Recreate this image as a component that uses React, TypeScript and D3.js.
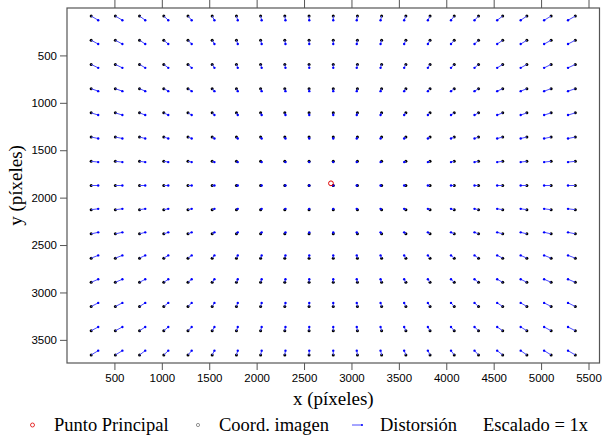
import React, { useEffect, useRef } from "react";
import * as d3 from "d3";

const W = 602;
const H = 438;
const margin = { left: 67, top: 8, right: 2.5, bottom: 75 };

// image size (px) and principal point
const imgWidth = 5616;
const imgHeight = 3744;
const principalPoint = [2784, 1849];

// grid of target coordinates
const xCoords = [255, 510, 765, 1021, 1276, 1531, 1787, 2042, 2297, 2553, 2808, 3063, 3318, 3574, 3829, 4084, 4340, 4595, 4850, 5106, 5361];
const yCoords = [85, 340, 595, 851, 1106, 1361, 1617, 1872, 2127, 2382, 2638, 2893, 3148, 3404, 3659];

// distortion (image px) read per column / per row
const dxByColumn = [74, 74, 60, 47, 39, 24, 14, 11, 7, 2, 0, -7, -11, -18, -23, -34, -42, -58, -65, -74, -77];
const dyByRow = [44, 40, 36, 26, 23, 15, 8, 0, -9, -16, -29, -32, -38, -40, -45];

const xTicks = [500, 1000, 1500, 2000, 2500, 3000, 3500, 4000, 4500, 5000, 5500];
const yTicks = [500, 1000, 1500, 2000, 2500, 3000, 3500];

const legendItems = ["Punto Principal", "Coord. imagen", "Distorsión", "Escalado = 1x"];

const sans = "'Liberation Sans', Arial, sans-serif";
const serif = "'Liberation Serif', 'Times New Roman', serif";

const App = () => {
  const ref = useRef<SVGSVGElement>(null);

  useEffect(() => {
    const svg = d3.select(ref.current);
    svg.selectAll("*").remove();

    const x = d3.scaleLinear().domain([0, imgWidth]).range([margin.left, W - margin.right]);
    const y = d3.scaleLinear().domain([0, imgHeight]).range([margin.top, H - margin.bottom]);

    const points: { x: number; y: number; dx: number; dy: number }[] = [];
    yCoords.forEach((yy, r) => {
      xCoords.forEach((xx, c) => {
        points.push({ x: xx, y: yy, dx: dxByColumn[c], dy: dyByRow[r] });
      });
    });

    const frameColor = "#555";

    // bottom axis
    svg.append("g")
      .attr("transform", `translate(0,${H - margin.bottom})`)
      .call(d3.axisBottom(x).tickValues(xTicks).tickSize(7).tickPadding(4).tickFormat(d3.format("d")))
      .call(g => g.select(".domain").remove())
      .call(g => g.selectAll("line").attr("stroke", frameColor))
      .call(g => g.selectAll("text").attr("font-family", sans).attr("font-size", 11.5).attr("fill", "#000"));

    // top axis (ticks only)
    svg.append("g")
      .attr("transform", `translate(0,${margin.top})`)
      .call(d3.axisTop(x).tickValues(xTicks).tickSize(8).tickFormat(() => ""))
      .call(g => g.select(".domain").remove())
      .call(g => g.selectAll("line").attr("stroke", frameColor));

    // left axis
    svg.append("g")
      .attr("transform", `translate(${margin.left},0)`)
      .call(d3.axisLeft(y).tickValues(yTicks).tickSize(7).tickPadding(3).tickFormat(d3.format("d")))
      .call(g => g.select(".domain").remove())
      .call(g => g.selectAll("line").attr("stroke", frameColor))
      .call(g => g.selectAll("text").attr("font-family", sans).attr("font-size", 11.5).attr("fill", "#000"));

    // frame
    svg.append("rect")
      .attr("x", x(0))
      .attr("y", y(0))
      .attr("width", x(imgWidth) - x(0))
      .attr("height", y(imgHeight) - y(0))
      .attr("fill", "none")
      .attr("stroke", frameColor)
      .attr("stroke-width", 1.2);

    // image coordinates
    svg.append("g")
      .selectAll("circle")
      .data(points)
      .join("circle")
      .attr("cx", d => x(d.x))
      .attr("cy", d => y(d.y))
      .attr("r", 1.5)
      .attr("fill", "#000");

    // distortion vectors
    const vec = svg.append("g");
    vec.selectAll("line")
      .data(points)
      .join("line")
      .attr("x1", d => x(d.x))
      .attr("y1", d => y(d.y))
      .attr("x2", d => x(d.x + d.dx))
      .attr("y2", d => y(d.y + d.dy))
      .attr("stroke", "#4a4aff")
      .attr("stroke-width", 1);
    vec.selectAll("circle")
      .data(points)
      .join("circle")
      .attr("cx", d => x(d.x + d.dx))
      .attr("cy", d => y(d.y + d.dy))
      .attr("r", 1.2)
      .attr("fill", "#0000ff");

    // principal point
    svg.append("circle")
      .attr("cx", x(principalPoint[0]))
      .attr("cy", y(principalPoint[1]))
      .attr("r", 2.4)
      .attr("fill", "none")
      .attr("stroke", "#e00000")
      .attr("stroke-width", 1);

    // axis titles
    svg.append("text")
      .attr("x", (x(0) + x(imgWidth)) / 2)
      .attr("y", 405)
      .attr("text-anchor", "middle")
      .attr("font-family", serif)
      .attr("font-size", 19)
      .text("x (píxeles)");

    svg.append("text")
      .attr("transform", `translate(22,${(y(0) + y(imgHeight)) / 2}) rotate(-90)`)
      .attr("text-anchor", "middle")
      .attr("font-family", serif)
      .attr("font-size", 19)
      .text("y (píxeles)");

    // legend
    const ly = 425;
    const lg = svg.append("g");
    lg.append("circle").attr("cx", 32.5).attr("cy", ly).attr("r", 2).attr("fill", "none").attr("stroke", "#e00000").attr("stroke-width", 0.8);
    lg.append("circle").attr("cx", 198).attr("cy", ly).attr("r", 1.6).attr("fill", "none").attr("stroke", "#777").attr("stroke-width", 0.8);
    lg.append("line").attr("x1", 352).attr("x2", 362).attr("y1", ly).attr("y2", ly).attr("stroke", "#4a4aff").attr("stroke-width", 1);
    lg.append("circle").attr("cx", 362).attr("cy", ly).attr("r", 1).attr("fill", "#0000ff");

    const textX = [54, 219, 380, 483];
    lg.selectAll("text")
      .data(legendItems)
      .join("text")
      .attr("x", (_, i) => textX[i])
      .attr("y", ly + 6)
      .attr("font-family", serif)
      .attr("font-size", 18.5)
      .attr("fill", "#000")
      .text(d => d);
  }, []);

  return (
    <div style={{ position: "absolute", left: 0, top: 0 }}>
      <svg ref={ref} width={W} height={H} style={{ display: "block", background: "#fff" }} />
    </div>
  );
};

export default App;
